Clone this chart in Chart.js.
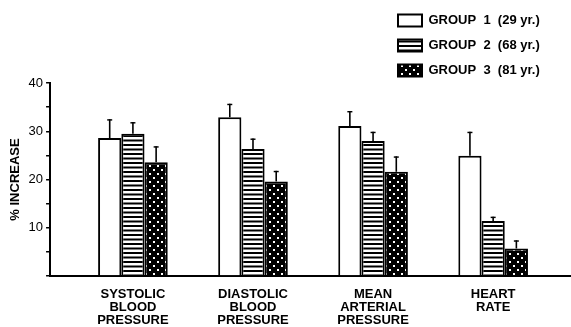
<!DOCTYPE html>
<html>
<head>
<meta charset="utf-8">
<script src="https://cdn.jsdelivr.net/npm/chart.js@4.4.1/dist/chart.umd.min.js"></script>
<style>
  html, body { margin: 0; padding: 0; background: #fff; }
  #wrap { width: 571px; height: 327px; position: relative; }
</style>
</head>
<body>
<div id="wrap"><canvas id="chart"></canvas></div>
<script>
// categories (x axis, multi-line)
const categories = [
  ['SYSTOLIC', 'BLOOD', 'PRESSURE'],
  ['DIASTOLIC', 'BLOOD', 'PRESSURE'],
  ['MEAN', 'ARTERIAL', 'PRESSURE'],
  ['HEART', 'RATE']
];
const groupNames = ['GROUP  1  (29 yr.)', 'GROUP  2  (68 yr.)', 'GROUP  3  (81 yr.)'];

// % increase, per group
const group1 = [28.6, 32.9, 31.1, 24.9];
const group2 = [29.5, 26.3, 28.0, 11.4];
const group3 = [23.6, 19.6, 21.6, 5.7];
// error (upper whisker only)
const group1Err = [3.9, 2.8, 3.1, 5.0];
const group2Err = [2.4, 2.2, 1.9, 0.9];
const group3Err = [3.3, 2.2, 3.2, 1.7];

const yTicks = [10, 20, 30, 40];

// fill patterns
function stripePattern() {
  const c = document.createElement('canvas');
  c.width = 4; c.height = 9;
  const x = c.getContext('2d');
  x.fillStyle = '#fff'; x.fillRect(0, 0, 4, 9);
  x.fillStyle = '#000';
  x.fillRect(0, 0, 4, 2);
  x.fillRect(0, 4.5, 4, 2);
  return x.createPattern(c, 'repeat');
}
function dotPattern() {
  const c = document.createElement('canvas');
  c.width = 8; c.height = 8;
  const x = c.getContext('2d');
  x.fillStyle = '#000'; x.fillRect(0, 0, 8, 8);
  x.fillStyle = '#fff';
  x.fillRect(1, 1, 2, 2);
  x.fillRect(5, 5, 2, 2);
  return x.createPattern(c, 'repeat');
}

const fills = ['#ffffff', stripePattern(), dotPattern()];
const series = [group1, group2, group3];
const errs = [group1Err, group2Err, group3Err];
const CAT_PCT = 0.58;

const datasets = [];
series.forEach((vals, i) => {
  datasets.push({
    label: groupNames[i],
    data: vals.map((v, j) => ({ x: j + 1, y: v })),
    stack: 'g' + i,
    backgroundColor: fills[i],
    borderColor: '#000',
    borderWidth: 2,
    categoryPercentage: CAT_PCT,
    barPercentage: 1
  });
});
series.forEach((vals, i) => {
  // whisker line
  datasets.push({
    label: 'err' + i,
    data: vals.map((v, j) => ({ x: j + 1, y: [v, v + errs[i][j]] })),
    stack: 'g' + i,
    backgroundColor: '#000',
    borderWidth: 0,
    maxBarThickness: 1.6,
    categoryPercentage: CAT_PCT,
    barPercentage: 1
  });
  // whisker cap
  datasets.push({
    label: 'cap' + i,
    data: vals.map((v, j) => ({ x: j + 1, y: [v + errs[i][j] - 0.3, v + errs[i][j]] })),
    stack: 'g' + i,
    backgroundColor: '#000',
    borderWidth: 0,
    maxBarThickness: 5,
    categoryPercentage: CAT_PCT,
    barPercentage: 1
  });
});

// move the vertical legend to the upper right corner
const legendSpot = {
  id: 'legendSpot',
  afterLayout(chart) {
    const lg = chart.legend;
    if (!lg) return;
    lg.left = 386;
    lg.top = 2;
    lg.right = lg.left + lg.width;
    lg.bottom = lg.top + lg.height;
  }
};

const font = 'Liberation Sans, Arial, sans-serif';

new Chart(document.getElementById('chart').getContext('2d'), {
  type: 'bar',
  data: { datasets },
  plugins: [legendSpot],
  options: {
    responsive: true,
    maintainAspectRatio: false,
    animation: false,
    layout: { padding: { top: 83, left: 6, right: 1, bottom: -12 } },
    plugins: {
      tooltip: { enabled: false },
      legend: {
        position: 'chartArea',
        align: 'start',
        labels: {
          filter: (item) => item.datasetIndex < 3,
          boxWidth: 24,
          boxHeight: 12,
          padding: 12,
          color: '#000',
          font: { family: font, size: 13, weight: 'bold' }
        }
      }
    },
    scales: {
      x: {
        type: 'linear',
        min: 0.31,
        max: 4.64,
        offset: false,
        afterBuildTicks: (scale) => {
          scale.ticks = categories.map((c, i) => ({ value: i + 1 }));
        },
        ticks: {
          autoSkip: false,
          maxRotation: 0,
          padding: 12,
          color: '#000',
          font: { family: font, size: 13, weight: 'bold', lineHeight: 1.0 },
          callback: (v) => categories[v - 1] || ''
        },
        grid: { display: false, drawTicks: false },
        border: { display: true, color: '#000', width: 2 }
      },
      y: {
        min: 0,
        max: 40,
        stacked: false,
        ticks: {
          stepSize: 5,
          padding: 3,
          color: '#000',
          font: { family: font, size: 13 },
          callback: (v) => yTicks.includes(v) ? v : ''
        },
        grid: { drawOnChartArea: false, drawTicks: true, tickLength: 4, color: '#000', lineWidth: 1.5 },
        border: { display: true, color: '#000', width: 2 },
        title: {
          display: true,
          text: '% INCREASE',
          color: '#000',
          font: { family: font, size: 13, weight: 'bold' },
          padding: { top: 2, bottom: 2 }
        }
      }
    }
  }
});
</script>
</body>
</html>
